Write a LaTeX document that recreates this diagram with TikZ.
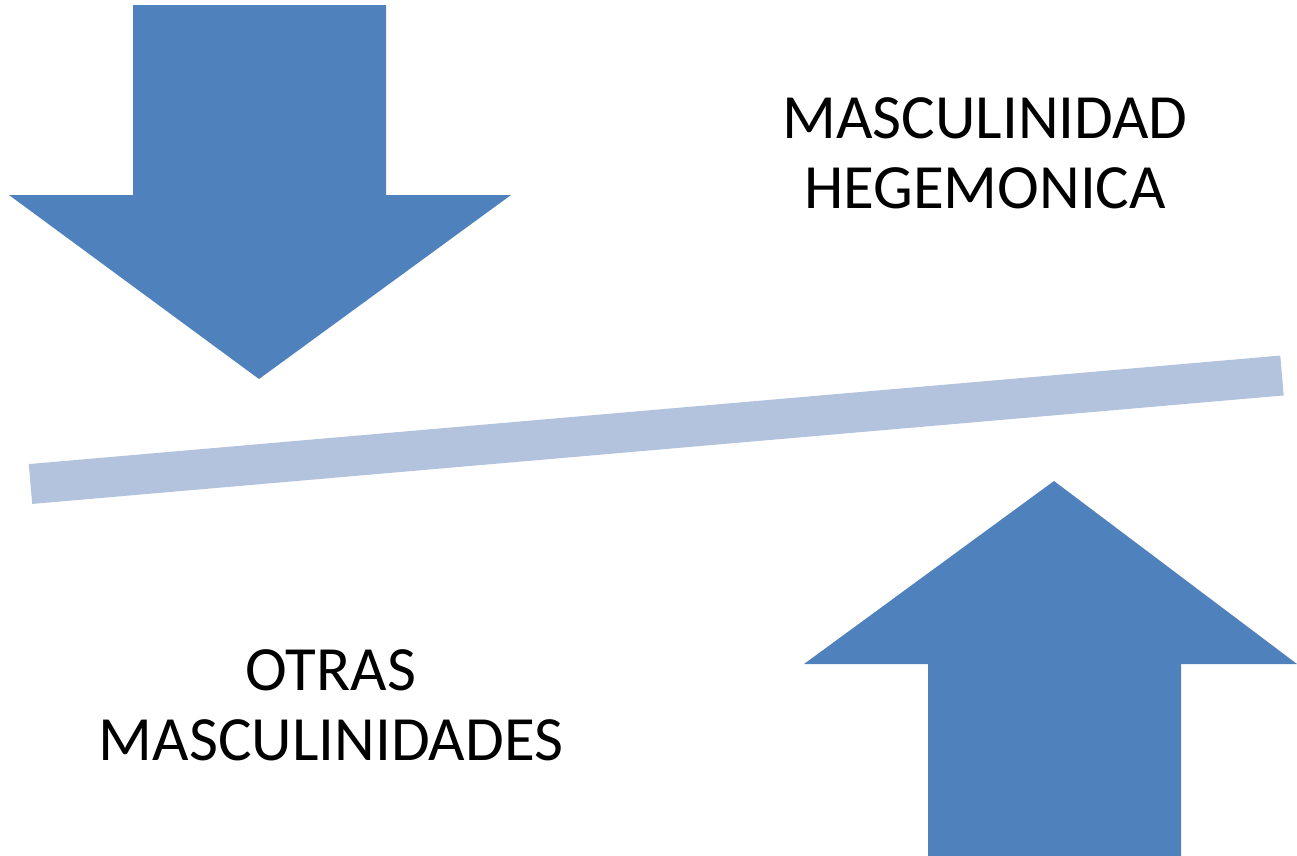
\documentclass[tikz,border=0pt]{standalone}
\usepackage{fontspec}
\setmainfont{Carlito}
\definecolor{arrowblue}{RGB}{79,129,189}
\definecolor{barblue}{RGB}{179,194,221}
\begin{document}
\begin{tikzpicture}[x=1pt,y=-1pt,
  bigarrow/.style={fill=arrowblue,draw=none},
  label/.style={align=center,inner sep=0pt,font=\fontsize{63}{70}\selectfont,text=black}]
\useasboundingbox (0,0) rectangle (1297,855);
% down arrow
\fill[bigarrow] (133,5) -- (386,5) -- (386,195) -- (511,195) -- (259,379) -- (9,195) -- (133,195) -- cycle;
% up arrow
\fill[bigarrow] (928,856) -- (928,664) -- (804,664) -- (1054,481) -- (1297,664) -- (1181,664) -- (1181,856) -- cycle;
% bar
\coordinate (barL) at (30.5,484);
\coordinate (barR) at (1282,375.5);
\draw[barblue,line width=40pt,line cap=butt] (barL) -- (barR);
% texts
\node[label] (heg) at (985,153) {MASCULINIDAD\\HEGEMONICA};
\node[label] (otras) at (331,705) {OTRAS\\MASCULINIDADES};
\end{tikzpicture}
\end{document}
